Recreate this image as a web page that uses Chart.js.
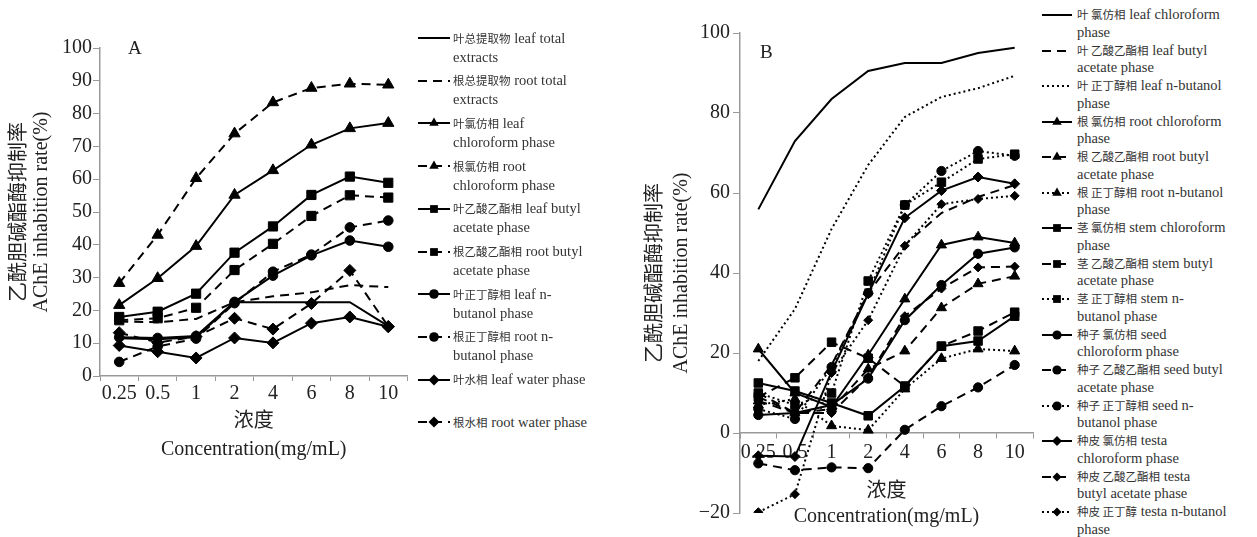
<!DOCTYPE html>
<html>
<head>
<meta charset="utf-8">
<script src="https://cdn.jsdelivr.net/npm/chart.js"></script>
<style>
  html, body { margin: 0; padding: 0; background: #fff; overflow: hidden; }
  #wrap { position: relative; width: 1257px; height: 537px; overflow: hidden; background: #fff; }
  #wrap > canvas { position: absolute; top: 0; }
  #cA { left: 0; }
  #cB { left: 630px; }
  .panel { position: absolute; font-family: "Liberation Serif", serif; font-size: 19px; color: #222; }
  .leg { position: absolute; white-space: nowrap; font-family: "Liberation Serif", serif; font-size: 14.5px; color: #333; }
  .leg canvas { position: absolute; left: 0; }
  .leg .txt { position: absolute; }
  .leg .zh { font-family: "Noto Sans CJK SC", sans-serif; font-size: 11.5px; }
</style>
</head>
<body>
<div id="wrap">
  <canvas id="cA" width="415" height="537"></canvas>
  <canvas id="cB" width="410" height="537"></canvas>
  <div class="panel" style="left:128px;top:37px;">A</div>
  <div class="panel" style="left:760px;top:41px;">B</div>
  <div id="legA"></div>
  <div id="legB"></div>
</div>
<script>
const concLabels = ['0.25', '0.5', '1', '2', '4', '6', '8', '10'];

// panel A
const leafTotal = [11.5, 11.2, 11.8, 22.5, 22.5, 22.5, 22.5, 15.2];
const rootTotal = [16.6, 16.4, 17.4, 22.5, 24.3, 25.5, 27.7, 27.1];
const leafChlA = [21.6, 29.8, 39.6, 55.2, 62.7, 70.5, 75.5, 77.1];
const rootChlA = [28.3, 43.0, 60.3, 73.9, 83.4, 87.8, 89.1, 88.8];
const leafButA = [18.0, 19.6, 25.1, 37.6, 45.6, 55.2, 60.8, 58.9];
const rootButA = [17.0, 17.6, 20.8, 32.3, 40.3, 48.8, 55.1, 54.4];
const leafBuohA = [11.8, 11.6, 12.2, 22.6, 30.6, 36.8, 41.3, 39.4];
const rootBuohA = [4.3, 9.0, 11.4, 22.2, 31.8, 37.0, 45.3, 47.4];
const leafWater = [9.3, 7.4, 5.5, 11.6, 10.1, 16.1, 18.0, 15.0];
const rootWater = [13.2, 10.2, 12.0, 17.6, 14.3, 22.1, 32.2, 15.1];

// panel B
const leafChlB = [55.9, 73.0, 83.5, 90.5, 92.5, 92.5, 95.0, 96.3];
const leafButB = [10.0, 5.0, 17.0, 35.0, 47.0, 55.0, 59.0, 62.0];
const leafBuohB = [18.0, 31.0, 51.0, 67.0, 79.0, 84.0, 86.2, 89.3];
const rootChlB = [21.0, 10.0, 6.5, 19.5, 33.5, 47.0, 49.0, 47.5];
const rootButB = [8.0, 5.0, 6.0, 16.0, 20.5, 31.3, 37.3, 39.2];
const rootBuohB = [7.0, 8.5, 1.8, 0.7, 11.0, 18.6, 21.0, 20.5];
const stemChl = [12.5, 10.5, 7.5, 4.3, 11.7, 21.7, 23.0, 29.2];
const stemBut = [9.0, 13.8, 22.7, 18.7, 11.7, 21.7, 25.5, 30.2];
const stemBuoh = [10.0, 7.0, 10.0, 38.0, 57.0, 62.7, 68.5, 69.7];
const seedChl = [4.5, 5.0, 7.0, 13.6, 28.2, 37.0, 44.8, 46.4];
const seedBut = [-7.6, -9.3, -8.6, -8.8, 0.8, 6.7, 11.4, 17.0];
const seedBuoh = [6.0, 3.5, 16.5, 35.0, 57.0, 65.5, 70.5, 69.3];
const testaChl = [-5.7, -5.9, 15.3, 34.8, 53.8, 60.6, 64.0, 62.3];
const testaBut = [9.0, 5.0, 5.0, 14.0, 29.2, 36.1, 41.4, 41.6];
const testaBuoh = [-19.8, -15.3, 15.0, 28.2, 46.8, 57.2, 58.5, 59.3];

const dashes = { solid: [], dashed: [9, 6], dotted: [2, 3] };
const serif = '"Liberation Serif", "Noto Sans CJK SC", serif';

function series(name, data, dash, marker, r) {
  return {
    label: name.join(' '),
    name: name,
    data: data,
    borderColor: '#000',
    backgroundColor: '#000',
    borderWidth: 2,
    borderDash: dashes[dash],
    pointStyle: marker || 'circle',
    pointRadius: marker ? r : 0,
    pointBorderWidth: 1,
    tension: 0,
    fill: false
  };
}

const dsA = [
  series(['叶总提取物', 'leaf total', 'extracts'], leafTotal, 'solid', null),
  series(['根总提取物', 'root total', 'extracts'], rootTotal, 'dashed', null),
  series(['叶氯仿相', 'leaf', 'chloroform phase'], leafChlA, 'solid', 'triangle', 6.5),
  series(['根氯仿相', ' root', 'chloroform phase'], rootChlA, 'dashed', 'triangle', 6.5),
  series(['叶乙酸乙酯相', 'leaf butyl', 'acetate phase'], leafButA, 'solid', 'rect', 6.5),
  series(['根乙酸乙酯相', 'root butyl', 'acetate phase'], rootButA, 'dashed', 'rect', 6.5),
  series(['叶正丁醇相', ' leaf n-', 'butanol phase'], leafBuohA, 'solid', 'circle', 4.8),
  series(['根正丁醇相', 'root n-', 'butanol phase'], rootBuohA, 'dashed', 'circle', 4.8),
  series(['叶水相', 'leaf water phase', ''], leafWater, 'solid', 'rectRot', 6),
  series(['根水相', 'root water phase', ''], rootWater, 'dashed', 'rectRot', 6)
];

const dsB = [
  series(['叶 氯仿相', 'leaf chloroform', 'phase'], leafChlB, 'solid', null),
  series(['叶 乙酸乙酯相', 'leaf butyl', 'acetate phase'], leafButB, 'dashed', null),
  series(['叶 正丁醇相', 'leaf n-butanol', 'phase'], leafBuohB, 'dotted', null),
  series(['根 氯仿相', 'root chloroform', 'phase'], rootChlB, 'solid', 'triangle', 5.8),
  series(['根 乙酸乙酯相', 'root butyl', 'acetate phase'], rootButB, 'dashed', 'triangle', 5.8),
  series(['根 正丁醇相', 'root n-butanol', 'phase'], rootBuohB, 'dotted', 'triangle', 5.8),
  series(['茎 氯仿相', 'stem chloroform', 'phase'], stemChl, 'solid', 'rect', 6),
  series(['茎 乙酸乙酯相', 'stem butyl', 'acetate phase'], stemBut, 'dashed', 'rect', 6),
  series(['茎 正丁醇相', 'stem  n-', 'butanol phase'], stemBuoh, 'dotted', 'rect', 6),
  series(['种子 氯仿相', 'seed', 'chloroform phase'], seedChl, 'solid', 'circle', 4.6),
  series(['种子 乙酸乙酯相', 'seed butyl', 'acetate phase'], seedBut, 'dashed', 'circle', 4.6),
  series(['种子 正丁醇相', 'seed n-', 'butanol phase'], seedBuoh, 'dotted', 'circle', 4.6),
  series(['种皮 氯仿相', 'testa', 'chloroform phase'], testaChl, 'solid', 'rectRot', 5),
  series(['种皮 乙酸乙酯相', 'testa', 'butyl acetate phase'], testaBut, 'dashed', 'rectRot', 4.5),
  series(['种皮 正丁醇', 'testa n-butanol', 'phase'], testaBuoh, 'dotted', 'rectRot', 4.5)
];

const tickFont = { family: serif, size: 20 };
const axisGrey = '#999';

new Chart(document.getElementById('cA'), {
  type: 'line',
  data: { labels: concLabels, datasets: dsA },
  options: {
    responsive: false,
    animation: false,
    layout: { padding: { top: 48, right: 5, left: 0, bottom: 0 } },
    plugins: { legend: { display: false }, tooltip: { enabled: false } },
    scales: {
      x: {
        offset: true,
        grid: { drawOnChartArea: false, tickLength: 5, color: axisGrey, offset: true },
        border: { color: axisGrey, width: 1.5 },
        ticks: { font: tickFont, color: '#222', padding: 1, maxRotation: 0, autoSkip: false },
        title: {
          display: true,
          text: ['浓度', 'Concentration(mg/mL)'],
          font: { family: serif, size: 20, lineHeight: 1.4 },
          color: '#222',
          padding: { top: 0, bottom: 73 }
        },
        afterFit: s => { s.height = 161; }
      },
      y: {
        min: 0,
        max: 100,
        grid: { drawOnChartArea: false, tickLength: 7, color: axisGrey },
        border: { color: axisGrey, width: 1.5 },
        ticks: { stepSize: 10, font: tickFont, color: '#222', padding: 1 },
        title: {
          display: true,
          text: ['乙酰胆碱酯酶抑制率', 'AChE inhabition rate(%)'],
          font: { family: serif, size: 20, lineHeight: 1.1 },
          color: '#222',
          padding: { top: 9, bottom: 0 }
        },
        afterFit: s => { s.width = 100; }
      }
    }
  }
});

// x axis sits on y = 0, so it takes no room: the bottom padding sets the -20 line
new Chart(document.getElementById('cB'), {
  type: 'line',
  data: { labels: concLabels, datasets: dsB },
  options: {
    responsive: false,
    animation: false,
    layout: { padding: { top: 33, right: 4, left: 0, bottom: 24 } },
    plugins: { legend: { display: false }, tooltip: { enabled: false } },
    scales: {
      x: {
        position: { y: 0 },
        offset: true,
        grid: { drawOnChartArea: false, tickLength: 5, color: axisGrey, offset: true },
        border: { color: axisGrey, width: 1.5 },
        ticks: { font: tickFont, color: '#222', padding: 3, maxRotation: 0, autoSkip: false },
        title: {
          display: true,
          text: ['浓度', 'Concentration(mg/mL)'],
          font: { family: serif, size: 20, lineHeight: 1.25 },
          color: '#222',
          padding: { top: 0, bottom: 0 }
        },
        afterFit: s => { s.height = 96; }
      },
      y: {
        min: -20,
        max: 100,
        grid: { drawOnChartArea: false, tickLength: 7, color: axisGrey },
        border: { color: axisGrey, width: 1.5 },
        ticks: {
          stepSize: 20, font: tickFont, color: '#222', padding: 3,
          callback: v => String(v).replace('-', '\u2212')
        },
        title: {
          display: true,
          text: ['乙酰胆碱酯酶抑制率', 'AChE inhabition rate(%)'],
          font: { family: serif, size: 20, lineHeight: 1.3 },
          color: '#222',
          padding: { top: 13, bottom: 0 }
        },
        afterFit: s => { s.width = 110; }
      }
    }
  }
});

// html legends built from the dataset styles
function marker(ctx, style, x, y, r) {
  ctx.beginPath();
  if (style === 'triangle') {
    ctx.moveTo(x, y - r);
    ctx.lineTo(x + r * 0.866, y + r / 2);
    ctx.lineTo(x - r * 0.866, y + r / 2);
  } else if (style === 'rect') {
    const s = r * Math.SQRT1_2;
    ctx.rect(x - s, y - s, 2 * s, 2 * s);
  } else if (style === 'rectRot') {
    ctx.moveTo(x, y - r); ctx.lineTo(x + r, y); ctx.lineTo(x, y + r); ctx.lineTo(x - r, y);
  } else {
    ctx.arc(x, y, r, 0, Math.PI * 2);
  }
  ctx.closePath();
  ctx.fill();
}

function buildLegend(el, datasets, x0, y0, step, lh, sw, gap) {
  datasets.forEach((ds, i) => {
    const item = document.createElement('div');
    item.className = 'leg';
    item.style.left = x0 + 'px';
    item.style.top = (y0 + i * step - lh / 2) + 'px';
    const c = document.createElement('canvas');
    c.width = sw; c.height = 14;
    c.style.top = (lh / 2 - 7) + 'px';
    const ctx = c.getContext('2d');
    ctx.strokeStyle = '#000';
    ctx.fillStyle = '#000';
    ctx.lineWidth = 2;
    ctx.setLineDash(ds.borderDash);
    ctx.beginPath(); ctx.moveTo(0, 7); ctx.lineTo(sw, 7); ctx.stroke();
    ctx.setLineDash([]);
    if (ds.pointRadius > 0) marker(ctx, ds.pointStyle, sw / 2, 7, Math.min(ds.pointRadius, 5.5));
    item.appendChild(c);
    const t = document.createElement('div');
    t.className = 'txt';
    t.style.left = (sw + gap) + 'px';
    t.style.top = '0px';
    t.style.lineHeight = lh + 'px';
    const [zh, l1, l2] = ds.name;
    t.innerHTML = '<span class="zh">' + zh + '</span> ' + l1 + (l2 ? '<br>' + l2 : '');
    item.appendChild(t);
    el.appendChild(item);
  });
}

buildLegend(document.getElementById('legA'), dsA, 418, 38, 42.7, 19, 32, 3);
buildLegend(document.getElementById('legB'), dsB, 1042, 15, 35.5, 17.5, 30, 5);
</script>
</body>
</html>
